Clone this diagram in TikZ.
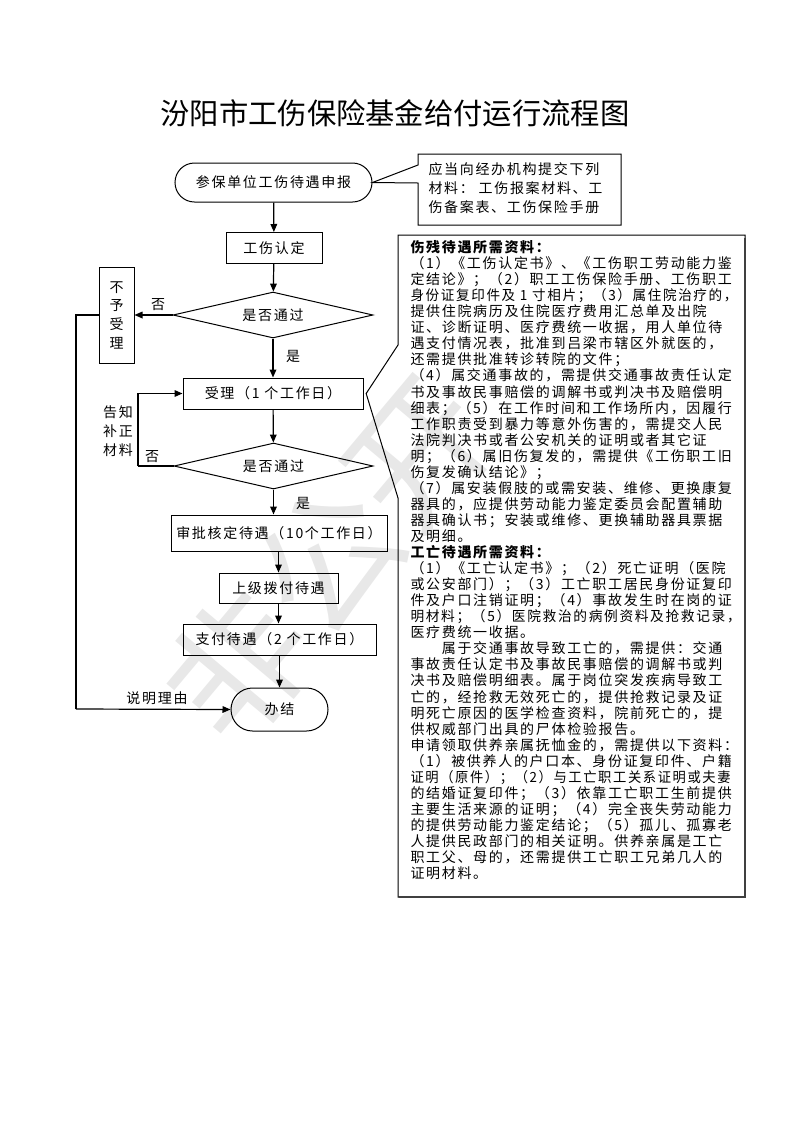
\documentclass[tikz,border=0pt]{standalone}
\usepackage{fontspec}
\usepackage{graphicx}
\setmainfont{Noto Sans CJK SC}
\newfontfamily\body[LetterSpace=12]{Noto Sans CJK SC}
\newfontfamily\headfont{Noto Sans CJK SC}
\usetikzlibrary{arrows.meta,shapes.geometric,shapes.misc,calc}
\tikzset{every picture/.style={line width=0.75pt}}
\tikzset{
  txt/.style={font=\fontsize{10.5}{14}\body, inner sep=0pt},
  proc/.style={txt, draw, rectangle},
  decide/.style={txt, draw, diamond, aspect=4.3},
  term/.style={txt, draw, rounded rectangle},
  flow/.style={line width=0.9pt, -{Triangle[length=6pt,width=5pt]}},
  link/.style={line width=0.9pt}
}
\begin{document}
\begin{tikzpicture}[x=0.75pt,y=0.75pt,yscale=-1,xscale=1]
      \useasboundingbox (0,0) rectangle (793,1122);
      \node [rotate=50, text=black!9, font=\fontsize{105}{105}\headfont] (wm) at (328,560) {非公开};
      \node [font=\fontsize{22}{26}\headfont, inner sep=0pt] (title) at (395,113) {汾阳市工伤保险基金给付运行流程图};
      \node [term, minimum width=197*0.75pt, minimum height=39*0.75pt] (start) at (273.5,182.5) {参保单位工伤待遇申报};
      \node [txt, anchor=north west, align=left, font=\fontsize{10.5}{14.25}\body] (note) at (428,162) {应当向经办机构提交下列\\材料： 工伤报案材料、工\\伤备案表、工伤保险手册};
      \coordinate (nw) at (418,154);
      \coordinate (se) at (621,225);
      \draw (nw) -- (nw -| se) -- (se) -- (se -| nw) -- (418,183) -- (start.east) -- (418,165) -- cycle;
      \node [proc, minimum width=96*0.75pt, minimum height=31*0.75pt] (ident) at (274,248) {工伤认定};
      \node [decide, minimum width=200*0.75pt, minimum height=46*0.75pt] (chk1) at (273,315) {是否通过};
      \node [proc, align=center, minimum width=35*0.75pt, minimum height=96*0.75pt] (reject) at (116.5,315) {不\\予\\受\\理};
      \node [proc, minimum width=180*0.75pt, minimum height=31*0.75pt] (accept) at (273,393.5) {受理（1 个工作日）};
      \node [decide, minimum width=199*0.75pt, minimum height=46*0.75pt] (chk2) at (273.5,466) {是否通过};
      \node [proc, minimum width=216*0.75pt, minimum height=36*0.75pt] (approve) at (279,533) {审批核定待遇（10个工作日）};
      \node [proc, minimum width=119*0.75pt, minimum height=30*0.75pt] (allot) at (278.5,588) {上级拨付待遇};
      \node [proc, minimum width=193*0.75pt, minimum height=31*0.75pt] (pay) at (279.5,639.5) {支付待遇（2 个工作日）};
      \node [term, minimum width=97*0.75pt, minimum height=43*0.75pt] (done) at (279.5,709.5) {办结};
      \coordinate (back) at (76,709);
      \coordinate (redo) at (138,466);
      \draw [flow] (start) -- (ident);
      \draw [flow] (ident) -- (chk1);
      \draw [flow] (chk1) -- (accept);
      \draw [flow] (accept) -- (chk2);
      \draw [flow] (chk2.south) -- (chk2.south |- approve.north);
      \draw [flow] (allot.north |- approve.south) -- (allot.north);
      \draw [flow] (allot.south) -- (allot.south |- pay.north);
      \draw [flow] (done.north |- pay.south) -- (done.north);
      \draw [flow] (chk1.west) -- (reject.east);
      \draw [link] (reject.west) -- (reject.west -| back) -- (back);
      \draw [flow] (back) -- (done.west);
      \draw [link] (chk2.west) -- (redo);
      \draw [flow] (redo) |- (accept.west);
      \node [txt] (no1) at (158,305) {否};
      \node [txt] (yes1) at (293,356) {是};
      \node [txt] (no2) at (152,457) {否};
      \node [txt] (yes2) at (303,503) {是};
      \node [txt, align=center, font=\fontsize{10.5}{14}\body] (fix) at (118,431) {告知\\补正\\材料};
      \node [txt] (why) at (157,698) {说明理由};
      \coordinate (bnw) at (398,235);
      \coordinate (bse) at (745,897);
      \draw (bnw) -- (bnw -| bse) -- (bse) -- (bse -| bnw) -- (398,498) -- ([xshift=2]accept.east) -- (398,345) -- cycle;
      \draw [line width=1.5pt, black!75] ([yshift=2]bnw -| bse) -- (bse) -- ([xshift=1]bse -| bnw);
      \node [txt, anchor=north west, align=left, font=\fontsize{10.5}{12.04}\body] (info) at (410,240) {%
      \textbf{伤残待遇所需资料：}\\
      （1）《工伤认定书》、《工伤职工劳动能力鉴\\
      定结论》；（2）职工工伤保险手册、工伤职工\\
      \scalebox{0.97}[1]{身份证复印件及 1 寸相片；（3）属住院治疗的，}\\
      提供住院病历及住院医疗费用汇总单及出院\\
      证、诊断证明、医疗费统一收据，用人单位待\\
      遇支付情况表，批准到吕梁市辖区外就医的，\\
      还需提供批准转诊转院的文件；\\
      （4）属交通事故的，需提供交通事故责任认定\\
      书及事故民事赔偿的调解书或判决书及赔偿明\\
      细表；（5）在工作时间和工作场所内，因履行\\
      工作职责受到暴力等意外伤害的，需提交人民\\
      法院判决书或者公安机关的证明或者其它证\\
      明；（6）属旧伤复发的，需提供《工伤职工旧\\
      伤复发确认结论》；\\
      （7）属安装假肢的或需安装、维修、更换康复\\
      器具的，应提供劳动能力鉴定委员会配置辅助\\
      器具确认书；安装或维修、更换辅助器具票据\\
      及明细。\\
      \textbf{工亡待遇所需资料：}\\
      （1）《工亡认定书》；（2）死亡证明（医院\\
      或公安部门）；（3）工亡职工居民身份证复印\\
      件及户口注销证明；（4）事故发生时在岗的证\\
      \scalebox{0.98}[1]{明材料；（5）医院救治的病例资料及抢救记录，}\\
      医疗费统一收据。\\
      \hspace*{23.5pt}属于交通事故导致工亡的，需提供：交通\\
      事故责任认定书及事故民事赔偿的调解书或判\\
      决书及赔偿明细表。属于岗位突发疾病导致工\\
      亡的，经抢救无效死亡的，提供抢救记录及证\\
      明死亡原因的医学检查资料，院前死亡的，提\\
      供权威部门出具的尸体检验报告。\\
      申请领取供养亲属抚恤金的，需提供以下资料：\\
      （1）被供养人的户口本、身份证复印件、户籍\\
      \scalebox{0.95}[1]{证明（原件）；（2）与工亡职工关系证明或夫妻}\\
      的结婚证复印件；（3）依靠工亡职工生前提供\\
      主要生活来源的证明；（4）完全丧失劳动能力\\
      的提供劳动能力鉴定结论；（5）孤儿、孤寡老\\
      人提供民政部门的相关证明。供养亲属是工亡\\
      职工父、母的，还需提供工亡职工兄弟几人的\\
      证明材料。};
\end{tikzpicture}
\end{document}
